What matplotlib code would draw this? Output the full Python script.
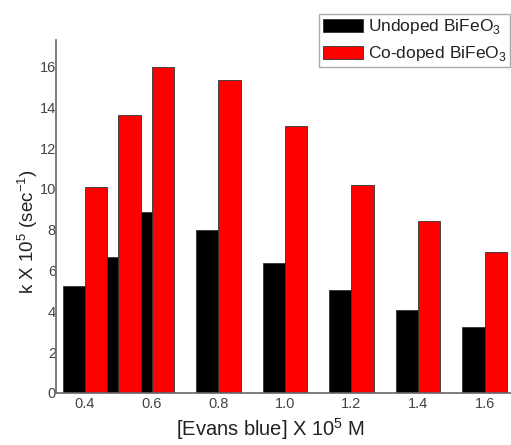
# grouped bar chart: rate constant vs Evans blue concentration
import matplotlib
matplotlib.use('Agg')
import matplotlib.pyplot as plt

plt.rcParams['font.family'] = ['Liberation Sans', 'DejaVu Sans']

conc = [0.4, 0.5, 0.6, 0.8, 1.0, 1.2, 1.4, 1.6]
undoped = [5.22, 6.65, 8.89, 7.97, 6.37, 5.06, 4.05, 3.22]
codoped = [10.08, 13.6, 16.0, 15.32, 13.07, 10.21, 8.41, 6.93]
tick_pos = [0.4, 0.6, 0.8, 1.0, 1.2, 1.4, 1.6]
tick_lbl = ['0.4', '0.6', '0.8', '1.0', '1.2', '1.4', '1.6']

w = 0.067
grey = '#444444'

fig = plt.figure(figsize=(5.11, 4.45), dpi=100)
ax = fig.add_axes([56/511, 52/445, 462/511, 353/445])

b1 = ax.bar(conc, undoped, width=-w, align='edge', color='black',
            edgecolor='#333333', linewidth=0.6, label='Undoped BiFeO$_\\mathregular{3}$')
b2 = ax.bar(conc, codoped, width=w, align='edge', color='#ff0000',
            edgecolor='#333333', linewidth=0.6, label='Co-doped BiFeO$_\\mathregular{3}$')

ax.set_xlim(0.313, 1.7)
ax.set_ylim(0, 17.3)
ax.set_xticks(tick_pos)
ax.set_xticklabels(tick_lbl)
ax.set_yticks([0, 2, 4, 6, 8, 10, 12, 14, 16])

for s in ['top', 'right']:
    ax.spines[s].set_visible(False)
for s in ['left', 'bottom']:
    ax.spines[s].set_color('#666666')
    ax.spines[s].set_linewidth(1.2)

ax.tick_params(axis='y', length=0, pad=0, labelsize=10.5, labelcolor=grey)
ax.tick_params(axis='x', length=0, pad=3, labelsize=10.5, labelcolor=grey)

ax.set_xlabel('[Evans blue] X 10$^\\mathregular{5}$ M', fontsize=14.5, color='#222222')
ax.set_ylabel('k X 10$^\\mathregular{5}$ (sec$^\\mathregular{-1}$)', fontsize=13.5, color='#222222')
ax.xaxis.set_label_coords(0.465, -0.066)
ax.yaxis.set_label_coords(-0.035, 0.456)

# legend pushed to the right edge like the reference
leg = fig.legend(handles=[b1, b2], loc='upper right',
                 bbox_to_anchor=(510/511, 1 - 14/445), borderaxespad=0,
                 prop={'size': 12.5},
                 handlelength=2.3, handleheight=0.8, handletextpad=0.3,
                 borderpad=0.2, labelspacing=0.45, fancybox=False, framealpha=1)
leg.get_frame().set_edgecolor('#aaaaaa')
leg.get_frame().set_linewidth(1.0)
for t in leg.get_texts():
    t.set_color('#222222')

fig.savefig('out.png', dpi=100)
